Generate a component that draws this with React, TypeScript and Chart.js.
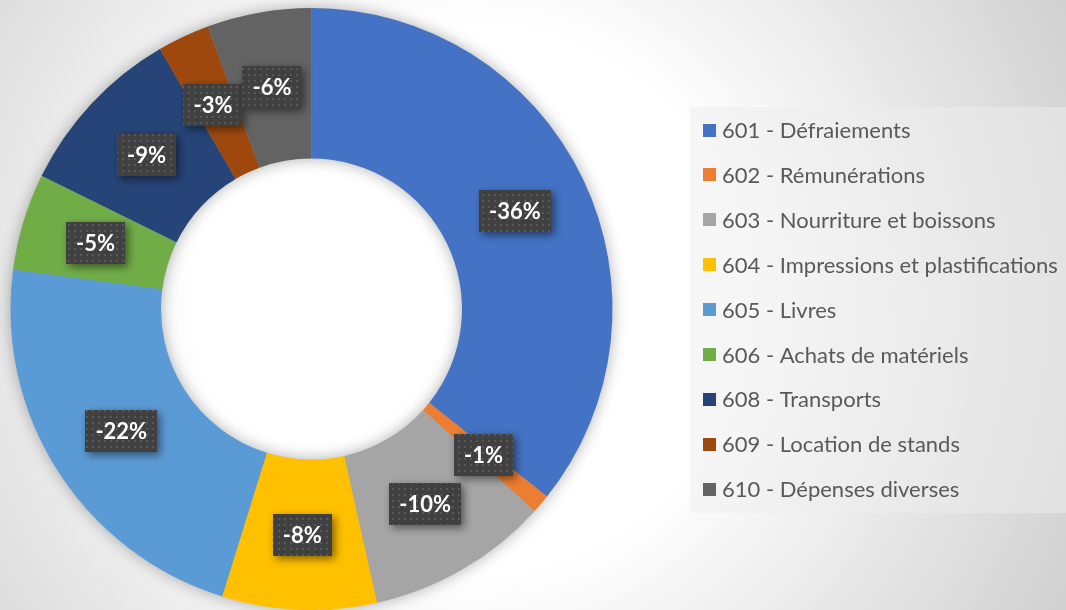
import React, { useEffect, useRef } from "react";
import { Chart, registerables } from "chart.js";

Chart.register(...registerables);

const categories = [
  "601 - Défraiements",
  "602 - Rémunérations",
  "603 - Nourriture et boissons",
  "604 - Impressions et plastifications",
  "605 - Livres",
  "606 - Achats de matériels",
  "608 - Transports",
  "609 - Location de stands",
  "610 - Dépenses diverses",
];
const values = [-35.7, -1.0, -9.8, -8.3, -22.3, -5.2, -9.3, -2.8, -5.6];
const colors = [
  "#4472C4",
  "#ED7D31",
  "#A5A5A5",
  "#FFC000",
  "#5B9BD5",
  "#70AD47",
  "#264478",
  "#9E480E",
  "#636363",
];

const LABEL_FONT = "bold 22px Lato";
const LEGEND_FONT = "22px Lato";

const bgPlugin = {
  id: "bg",
  beforeDraw(chart: any) {
    const { ctx, width, height } = chart;
    ctx.save();
    const g = ctx.createRadialGradient(470, 300, 0, 470, 300, 680);
    g.addColorStop(0, "#ffffff");
    g.addColorStop(0.4, "#ffffff");
    g.addColorStop(1, "#cfcfcf");
    ctx.fillStyle = g;
    ctx.fillRect(0, 0, width, height);
    ctx.restore();
  },
};

const ringShadowPlugin = {
  id: "ringShadow",
  beforeDatasetsDraw(chart: any) {
    const meta = chart.getDatasetMeta(0);
    const arc = meta.data[0];
    if (!arc) return;
    const { x, y, innerRadius, outerRadius } = arc.getProps(
      ["x", "y", "innerRadius", "outerRadius"],
      true
    );
    const ctx = chart.ctx;
    ctx.save();
    ctx.shadowColor = "rgba(0,0,0,0.35)";
    ctx.shadowBlur = 16;
    ctx.fillStyle = "#9a9a9a";
    ctx.beginPath();
    ctx.arc(x, y, outerRadius - 1, 0, Math.PI * 2);
    ctx.arc(x, y, innerRadius + 1, Math.PI * 2, 0, true);
    ctx.closePath();
    ctx.fill("evenodd");
    ctx.restore();
  },
};

function makePattern(ctx: CanvasRenderingContext2D) {
  const c = document.createElement("canvas");
  c.width = 6;
  c.height = 6;
  const p = c.getContext("2d")!;
  p.fillStyle = "#404040";
  p.fillRect(0, 0, 6, 6);
  p.fillStyle = "#585858";
  p.fillRect(2, 2, 2, 2);
  return ctx.createPattern(c, "repeat");
}

const labelPlugin = {
  id: "boxLabels",
  afterDatasetsDraw(chart: any) {
    const ctx: CanvasRenderingContext2D = chart.ctx;
    const meta = chart.getDatasetMeta(0);
    ctx.save();
    ctx.font = LABEL_FONT;
    const boxes: any[] = [];
    for (let i = meta.data.length - 1; i >= 0; i--) {
      const el = meta.data[i];
      const { x, y, startAngle, endAngle, innerRadius, outerRadius } = el.getProps(
        ["x", "y", "startAngle", "endAngle", "innerRadius", "outerRadius"],
        true
      );
      const mid = (startAngle + endAngle) / 2;
      const r = (innerRadius + outerRadius) / 2;
      let cx = x + Math.cos(mid) * r;
      const cy = y + Math.sin(mid) * r;
      const text = `${Math.round(values[i])}%`;
      const w = ctx.measureText(text).width + 20;
      const h = 42;
      for (const b of boxes) {
        const overlapX = Math.abs(cx - b.cx) < (w + b.w) / 2;
        const overlapY = Math.abs(cy - b.cy) < (h + b.h) / 2;
        if (overlapX && overlapY) {
          if (cx < b.cx) cx = b.cx - (w + b.w) / 2;
          else cx = b.cx + (w + b.w) / 2;
        }
      }
      boxes.push({ cx, cy, w, h, text });
    }
    const pattern = makePattern(ctx);
    for (const b of boxes.slice().reverse()) {
      ctx.save();
      ctx.shadowColor = "rgba(0,0,0,0.5)";
      ctx.shadowBlur = 9;
      ctx.shadowOffsetX = 3;
      ctx.shadowOffsetY = 3;
      ctx.fillStyle = pattern || "#404040";
      ctx.fillRect(Math.round(b.cx - b.w / 2), Math.round(b.cy - b.h / 2), Math.round(b.w), b.h);
      ctx.restore();
      ctx.fillStyle = "#ffffff";
      ctx.textAlign = "center";
      ctx.textBaseline = "middle";
      ctx.fillText(b.text, b.cx, b.cy + 1);
    }
    ctx.restore();
  },
};

const legendPlugin = {
  id: "sideLegend",
  afterDraw(chart: any) {
    const ctx: CanvasRenderingContext2D = chart.ctx;
    ctx.save();
    ctx.fillStyle = "rgba(238,238,238,0.5)";
    ctx.fillRect(690, 107, 376, 406);
    ctx.font = LEGEND_FONT;
    ctx.textBaseline = "middle";
    ctx.textAlign = "left";
    const labels: string[] = chart.data.labels;
    const bg: string[] = chart.data.datasets[0].backgroundColor;
    labels.forEach((lab, i) => {
      const cy = 130 + i * 44.9;
      ctx.fillStyle = bg[i];
      ctx.fillRect(703, Math.round(cy - 6.5), 13, 13);
      ctx.fillStyle = "#595959";
      ctx.fillText(lab, 722, cy + 1);
    });
    ctx.restore();
  },
};

export default function App() {
  const ref = useRef<HTMLCanvasElement>(null);
  useEffect(() => {
    document.body.style.margin = "0";
    const canvas = ref.current!;
    const chart = new Chart(canvas, {
      type: "doughnut",
      data: {
        labels: categories,
        datasets: [
          {
            data: values.map((v) => Math.abs(v)),
            backgroundColor: colors,
            borderWidth: 0,
          },
        ],
      },
      options: {
        responsive: false,
        animation: false,
        cutout: "50%",
        layout: { padding: { left: 10, top: 8, right: 453, bottom: 0 } },
        plugins: {
          legend: { display: false },
          tooltip: { enabled: false },
        },
      },
      plugins: [bgPlugin, ringShadowPlugin, labelPlugin, legendPlugin],
    });
    return () => chart.destroy();
  }, []);
  return (
    <canvas
      ref={ref}
      width={1066}
      height={610}
      style={{ display: "block", width: 1066, height: 610 }}
    />
  );
}
